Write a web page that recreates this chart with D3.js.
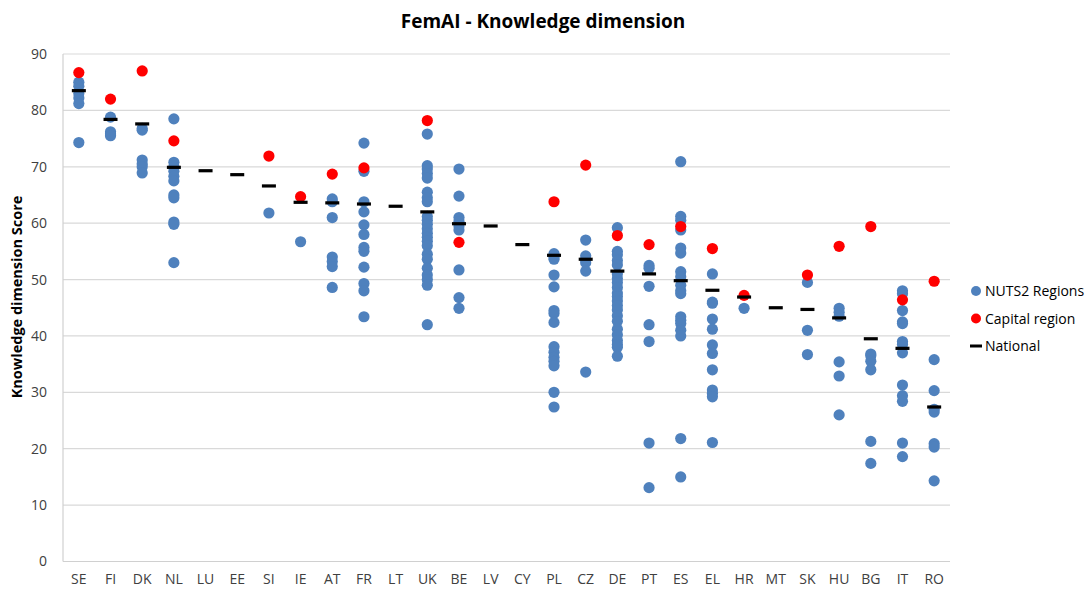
<!DOCTYPE html>
<html><head><meta charset="utf-8">
<script src="https://cdn.jsdelivr.net/npm/d3@7"></script>
<style>body{margin:0;background:#fff;} text{font-family:"Open Sans","Noto Sans",sans-serif;}</style>
</head><body><svg id="c" width="1086" height="590"></svg>
<script>
const categories = ["SE","FI","DK","NL","LU","EE","SI","IE","AT","FR","LT","UK","BE","LV","CY","PL","CZ","DE","PT","ES","EL","HR","MT","SK","HU","BG","IT","RO"];
const nutsRegions = [
  [85.0,84.3,83.0,82.2,81.2,74.3],
  [78.8,76.2,75.8,75.5],
  [76.8,76.5,71.2,70.5,70.0,68.9],
  [78.5,70.8,70.0,69.2,68.3,67.5,65.0,64.5,60.2,59.8,53.0],
  [], [],
  [61.8],
  [56.7],
  [64.3,63.8,61.0,54.0,53.2,52.3,48.6],
  [74.2,69.2,63.8,62.0,59.7,58.0,55.7,55.0,52.2,49.3,48.0,43.4],
  [],
  [75.8,70.2,69.6,68.8,68.0,65.5,64.5,63.8,61.2,60.5,59.8,59.0,58.2,57.5,56.8,56.0,54.5,53.6,52.0,50.8,50.0,49.0,42.0],
  [69.6,64.8,61.0,60.3,59.5,58.8,51.7,46.8,44.9],
  [], [],
  [54.6,54.0,53.6,50.8,48.7,44.5,44.0,42.4,38.1,37.1,36.2,35.5,34.7,30.0,27.4],
  [57.0,54.2,53.5,53.0,51.5,33.6],
  [59.2,55.0,54.4,53.4,52.6,51.0,50.2,49.5,48.6,47.6,47.0,46.2,45.4,44.6,43.6,42.6,41.2,40.2,39.2,38.5,38.0,36.4],
  [52.5,52.0,48.8,42.0,39.0,21.0,13.1],
  [70.9,61.2,60.5,58.8,55.6,54.7,51.4,50.5,49.0,48.0,47.5,43.4,42.8,42.2,41.0,40.0,21.8,15.0],
  [51.0,46.0,45.8,43.0,41.2,38.4,36.9,34.0,30.4,29.8,29.2,21.1],
  [44.9],
  [],
  [49.5,41.0,36.7],
  [44.9,44.2,43.5,35.4,32.9,26.0],
  [36.8,36.5,35.5,34.0,21.3,17.4],
  [48.0,47.5,44.5,42.5,42.2,39.0,38.5,37.0,31.3,29.4,28.4,21.0,18.6],
  [35.8,30.3,27.0,26.5,20.9,20.3,14.3]
];
const capitalRegion = [86.7,82.0,87.0,74.6,null,null,71.9,64.7,68.7,69.8,null,78.2,56.6,null,null,63.8,70.3,57.8,56.2,59.4,55.5,47.2,null,50.8,55.9,59.4,46.4,49.7];
const national = [83.5,78.4,77.6,69.9,69.3,68.6,66.6,63.7,63.6,63.4,63.0,62.0,59.9,59.5,56.2,54.3,53.6,51.5,51.0,49.8,48.1,46.9,45.0,44.7,43.2,39.5,37.8,27.4];
const yTicks = [0,10,20,30,40,50,60,70,80,90];
const legendLabels = ["NUTS2 Regions","Capital region","National"];

const svg = d3.select("#c");
const L=63, R=950, T=54, B=561.5;
const x = d3.scaleBand().domain(categories).range([L,R]);
const y = d3.scaleLinear().domain([0,90]).range([B,T]);
const blue="#4F81BD", red="#FF0000";

svg.append("g").selectAll("line").data(yTicks.filter(d=>d>0)).join("line")
  .attr("x1",L).attr("x2",R).attr("y1",d=>y(d)).attr("y2",d=>y(d))
  .attr("stroke","#D9D9D9").attr("stroke-width",1.2);
svg.append("line").attr("x1",L).attr("x2",R).attr("y1",B).attr("y2",B).attr("stroke","#D0D0D0").attr("stroke-width",1.2);
svg.append("line").attr("x1",L).attr("x2",L).attr("y1",T).attr("y2",B).attr("stroke","#D0D0D0").attr("stroke-width",1.2);

const ya = svg.append("g").attr("transform",`translate(${L},0)`).call(d3.axisLeft(y).tickValues(yTicks).tickSize(0).tickPadding(16));
ya.select(".domain").remove();
ya.selectAll("text").attr("font-size",14).attr("fill","#404040").style("font-family","'Open Sans',sans-serif");

const xa = svg.append("g").attr("transform",`translate(0,${B})`).call(d3.axisBottom(x).tickSize(0).tickPadding(13));
xa.select(".domain").remove();
xa.selectAll("text").attr("font-size",14).attr("fill","#404040").style("font-family","'Open Sans',sans-serif");

const cx = c => x(c)+x.bandwidth()/2;
const nuts = categories.flatMap((c,i)=>nutsRegions[i].map(v=>({c,v})));
svg.append("g").selectAll("circle").data(nuts).join("circle")
  .attr("cx",d=>cx(d.c)).attr("cy",d=>y(d.v)).attr("r",5.6).attr("fill",blue);
const caps = categories.map((c,i)=>({c,v:capitalRegion[i]})).filter(d=>d.v!=null);
svg.append("g").selectAll("circle").data(caps).join("circle")
  .attr("cx",d=>cx(d.c)).attr("cy",d=>y(d.v)).attr("r",5.6).attr("fill",red);
const nat = categories.map((c,i)=>({c,v:national[i]}));
svg.append("g").selectAll("rect").data(nat).join("rect")
  .attr("x",d=>cx(d.c)-7).attr("y",d=>y(d.v)-1.6).attr("width",14).attr("height",3.2).attr("fill","#000");

svg.append("text").attr("x",543).attr("y",28).attr("text-anchor","middle")
  .attr("font-size",19).attr("font-weight","bold").attr("fill","#000").text("FemAI - Knowledge dimension");
svg.append("text").attr("transform",`translate(22,297) rotate(-90)`).attr("text-anchor","middle")
  .attr("font-size",14.5).attr("font-weight","bold").attr("fill","#000").text("Knowledge dimension  Score");

const lg = svg.append("g");
legendLabels.forEach((t,i)=>{
  const ly = 291 + i*27.5;
  if(i<2) lg.append("circle").attr("cx",976).attr("cy",ly).attr("r",5).attr("fill",i===0?blue:red);
  else lg.append("rect").attr("x",970).attr("y",ly-1.5).attr("width",12).attr("height",3).attr("fill","#000");
  lg.append("text").attr("x",985).attr("y",ly+5).attr("font-size",14).attr("fill","#000").text(t);
});
</script></body></html>
